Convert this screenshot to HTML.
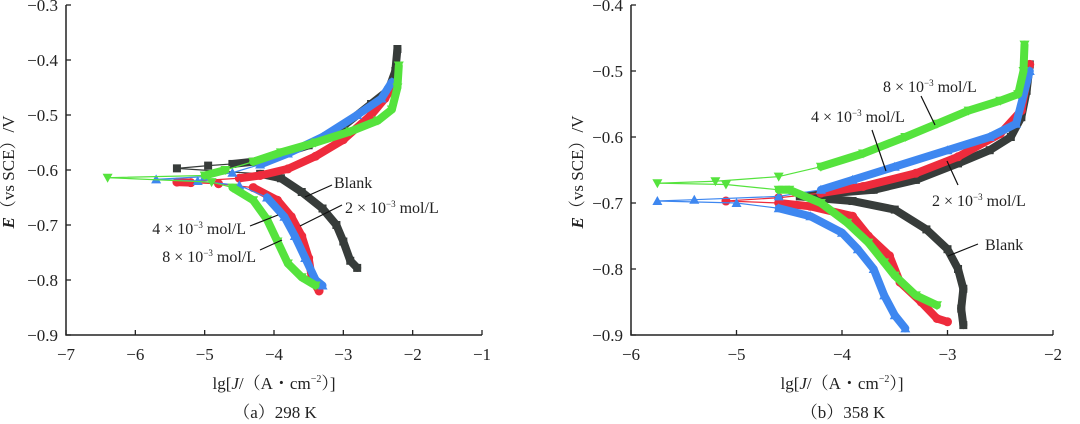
<!DOCTYPE html>
<html><head><meta charset="utf-8"><style>
html,body{margin:0;padding:0;background:#fff;width:1080px;height:424px;overflow:hidden}
svg{display:block;font-family:"Liberation Serif","Noto Serif CJK SC",serif}
</style></head><body>
<svg id="fig" width="1080" height="424" viewBox="0 0 1080 424"></svg>
<script>
// ---- Data: panel (a) 298 K  [lgJ, E]
const aBlank=[[-2.8,-0.778],[-2.9,-0.765],[-3.0,-0.73],[-3.1,-0.70],[-3.3,-0.67],[-3.6,-0.64],[-3.9,-0.615],[-4.2,-0.607],[-5.4,-0.597],[-4.95,-0.592],[-4.6,-0.589],[-4.3,-0.585],[-4.0,-0.575],[-3.5,-0.555],[-3.0,-0.52],[-2.6,-0.48],[-2.35,-0.455],[-2.25,-0.42],[-2.22,-0.38]];
const aRed=[[-3.35,-0.82],[-3.45,-0.80],[-3.5,-0.76],[-3.6,-0.72],[-3.75,-0.685],[-3.95,-0.655],[-4.3,-0.632],[-4.8,-0.625],[-5.2,-0.623],[-5.4,-0.622],[-4.5,-0.615],[-4.2,-0.61],[-3.8,-0.598],[-3.4,-0.575],[-3.0,-0.545],[-2.6,-0.50],[-2.4,-0.47],[-2.3,-0.45]];
const aBlue=[[-3.3,-0.81],[-3.4,-0.80],[-3.55,-0.76],[-3.7,-0.72],[-3.85,-0.685],[-4.1,-0.65],[-4.5,-0.628],[-5.1,-0.62],[-5.7,-0.617],[-5.0,-0.612],[-4.6,-0.605],[-4.2,-0.59],[-3.8,-0.57],[-3.3,-0.54],[-2.8,-0.50],[-2.45,-0.47],[-2.3,-0.44]];
const aGreen=[[-3.4,-0.81],[-3.6,-0.795],[-3.8,-0.77],[-3.95,-0.73],[-4.1,-0.69],[-4.3,-0.655],[-4.6,-0.632],[-4.9,-0.622],[-6.4,-0.614],[-5.0,-0.61],[-4.7,-0.60],[-4.3,-0.585],[-3.9,-0.568],[-3.4,-0.55],[-2.9,-0.53],[-2.5,-0.51],[-2.3,-0.49],[-2.22,-0.45],[-2.2,-0.41]];
// ---- Data: panel (b) 358 K
const bBlank=[[-2.85,-0.885],[-2.87,-0.86],[-2.85,-0.83],[-2.9,-0.80],[-3.0,-0.77],[-3.2,-0.74],[-3.5,-0.71],[-3.9,-0.697],[-4.2,-0.693],[-4.4,-0.69],[-4.1,-0.685],[-3.7,-0.68],[-3.3,-0.665],[-2.9,-0.64],[-2.6,-0.62],[-2.4,-0.60],[-2.3,-0.57],[-2.25,-0.53],[-2.22,-0.49]];
const bRed=[[-3.0,-0.88],[-3.1,-0.875],[-3.25,-0.85],[-3.45,-0.82],[-3.55,-0.78],[-3.75,-0.75],[-3.9,-0.72],[-4.3,-0.705],[-4.6,-0.70],[-5.1,-0.697],[-4.6,-0.692],[-4.2,-0.685],[-3.8,-0.675],[-3.3,-0.655],[-2.9,-0.63],[-2.5,-0.595],[-2.3,-0.56],[-2.22,-0.49]];
const bBlue=[[-3.4,-0.89],[-3.5,-0.87],[-3.6,-0.84],[-3.7,-0.80],[-3.85,-0.77],[-4.0,-0.745],[-4.3,-0.72],[-4.6,-0.708],[-5.0,-0.70],[-5.75,-0.697],[-5.4,-0.695],[-4.6,-0.69],[-4.2,-0.68],[-3.9,-0.665],[-3.5,-0.645],[-3.0,-0.62],[-2.6,-0.60],[-2.35,-0.58],[-2.22,-0.50]];
const bGreen=[[-3.1,-0.855],[-3.3,-0.84],[-3.5,-0.81],[-3.6,-0.79],[-3.75,-0.76],[-3.95,-0.73],[-4.2,-0.70],[-4.5,-0.68],[-4.6,-0.68],[-5.1,-0.672],[-5.75,-0.67],[-5.2,-0.667],[-4.6,-0.66],[-4.2,-0.645],[-3.8,-0.625],[-3.4,-0.60],[-3.1,-0.58],[-2.8,-0.56],[-2.5,-0.545],[-2.33,-0.535],[-2.28,-0.50],[-2.27,-0.46]];
const aXTicks=[-7,-6,-5,-4,-3,-2,-1];
const aYTicks=[-0.3,-0.4,-0.5,-0.6,-0.7,-0.8,-0.9];
const bXTicks=[-6,-5,-4,-3,-2];
const bYTicks=[-0.4,-0.5,-0.6,-0.7,-0.8,-0.9];

const NS="http://www.w3.org/2000/svg";
const svg=document.getElementById('fig');
function mk(tag,attrs,parent){const e=document.createElementNS(NS,tag);for(const k in attrs)e.setAttribute(k,attrs[k]);(parent||svg).appendChild(e);return e;}
const fmt=v=>(v<0?'\u2212':'')+Math.abs(v).toString();

function panel(cfg){
  const g=mk('g',{});
  
  
  const sx=v=>cfg.x0+(v-cfg.xmin)/(cfg.xmax-cfg.xmin)*(cfg.x1-cfg.x0);
  const sy=v=>cfg.y0+(cfg.ymax-v)/(cfg.ymax-cfg.ymin)*(cfg.y1-cfg.y0);
  cfg.series.forEach(s=>{
    const sg=mk('g',{},g);
    
    
    for(let i=1;i<s.data.length;i++){
      const p=s.data[i-1],q=s.data[i];
      const thin=Math.abs(q[0]-p[0])>0.3 && Math.min(p[0],q[0])<cfg.thinX;
      const ln=mk('line',{x1:sx(p[0]),y1:sy(p[1]),x2:sx(q[0]),y2:sy(q[1]),stroke:s.color,'stroke-width':thin?1.2:8,'stroke-linecap':'round'},sg);
      
      
    }
    s.data.forEach(p=>{
      const x=sx(p[0]),y=sy(p[1]);let m;
      if(s.marker==='sq')m=mk('rect',{x:x-4,y:y-4,width:8,height:8,fill:s.color},sg);
      else if(s.marker==='ci')m=mk('circle',{cx:x,cy:y,r:4.5,fill:s.color},sg);
      else if(s.marker==='up')m=mk('polygon',{points:`${x},${y-5} ${x-5},${y+4} ${x+5},${y+4}`,fill:s.color},sg);
      else m=mk('polygon',{points:`${x},${y+5} ${x-5},${y-4} ${x+5},${y-4}`,fill:s.color},sg);
      
      
    });
  });
  const ax=mk('path',{d:`M${cfg.x0},${cfg.y0} V${cfg.y1} H${cfg.x1}`,fill:'none',stroke:'#222','stroke-width':1.5},g);
  
  
  cfg.xt.forEach(v=>{
    const x=sx(v);
    mk('line',{x1:x,y1:cfg.y1,x2:x,y2:cfg.y1-5,stroke:'#222','stroke-width':1.3},g);
    const t=mk('text',{x:x,y:cfg.y1+25,'text-anchor':'middle','font-size':17,fill:'#222'},g);
    t.textContent=fmt(v);
    
    
  });
  cfg.yt.forEach(v=>{
    const y=sy(v);
    mk('line',{x1:cfg.x0,y1:y,x2:cfg.x0+5,y2:y,stroke:'#222','stroke-width':1.3},g);
    const t=mk('text',{x:cfg.x0-8,y:y+6,'text-anchor':'end','font-size':17,fill:'#222'},g);
    t.textContent=fmt(v);
    
    
  });
  const xl=mk('text',{x:(cfg.x0+cfg.x1)/2,y:389,'text-anchor':'middle','font-size':17,fill:'#222'},g);
  xl.innerHTML='lg[<tspan font-style="italic">J</tspan>/（A・cm<tspan dy="-7" font-size="10">−2</tspan><tspan dy="7">）]</tspan>';
  
  
  const yl=mk('text',{x:0,y:0,'text-anchor':'middle','font-size':17,fill:'#222',transform:`translate(${cfg.ylX},${cfg.ylY}) rotate(-90)`},g);
  yl.innerHTML='<tspan font-style="italic" font-weight="bold">E</tspan>（vs SCE）/V';
  
  
  const cap=mk('text',{x:cfg.capX,y:418,'text-anchor':'middle','font-size':17,fill:'#222'},g);
  cap.textContent=cfg.cap;
  
  
  cfg.labels.forEach(l=>{
    const t=mk('text',{x:l.x,y:l.y,'font-size':16,fill:'#222','text-anchor':l.anchor||'start'},g);
    t.innerHTML=l.html;
    
    
    const ln=mk('line',{x1:l.l[0],y1:l.l[1],x2:l.l[2],y2:l.l[3],stroke:'#111','stroke-width':1.2},g);
    
    
  });
}
const conc=n=>`${n} × 10<tspan dy="-6" font-size="9">−3</tspan><tspan dy="6"> mol/L</tspan>`;
panel({name:'panel-a-298k',x0:66,x1:482,y0:5,y1:335,xmin:-7,xmax:-1,ymin:-0.9,ymax:-0.3,xt:aXTicks,yt:aYTicks,thinX:-4.3,
  series:[{name:'blank-series',data:aBlank,color:'#373c3a',marker:'sq'},{name:'red-2e-3-series',data:aRed,color:'#ee2b3c',marker:'ci'},{name:'blue-4e-3-series',data:aBlue,color:'#3e87f0',marker:'up'},{name:'green-8e-3-series',data:aGreen,color:'#55e33d',marker:'dn'}],
  ylX:14,ylY:172,capX:275,cap:'（a）298 K',
  labels:[{x:334,y:188,html:'Blank',l:[305,197,332,185]},{x:345,y:213,html:conc(2),l:[300,226,342,205]},{x:246,y:234,anchor:'end',html:conc(4),l:[250,226,278,215]},{x:256,y:262,anchor:'end',html:conc(8),l:[260,250,282,240]}]});
panel({name:'panel-b-358k',x0:631,x1:1053,y0:5,y1:335,xmin:-6,xmax:-2,ymin:-0.9,ymax:-0.4,xt:bXTicks,yt:bYTicks,thinX:-4.4,
  series:[{name:'blank-series',data:bBlank,color:'#373c3a',marker:'sq'},{name:'red-2e-3-series',data:bRed,color:'#ee2b3c',marker:'ci'},{name:'blue-4e-3-series',data:bBlue,color:'#3e87f0',marker:'up'},{name:'green-8e-3-series',data:bGreen,color:'#55e33d',marker:'dn'}],
  ylX:583,ylY:172,capX:843,cap:'（b）358 K',
  labels:[{x:883,y:92,html:conc(8),l:[921,96,935,125]},{x:811,y:122,html:conc(4),l:[872,130,886,171]},{x:932,y:206,html:conc(2),l:[958,185,947,161]},{x:985,y:250,html:'Blank',l:[948,256,978,244]}]});
</script>
</body></html>
